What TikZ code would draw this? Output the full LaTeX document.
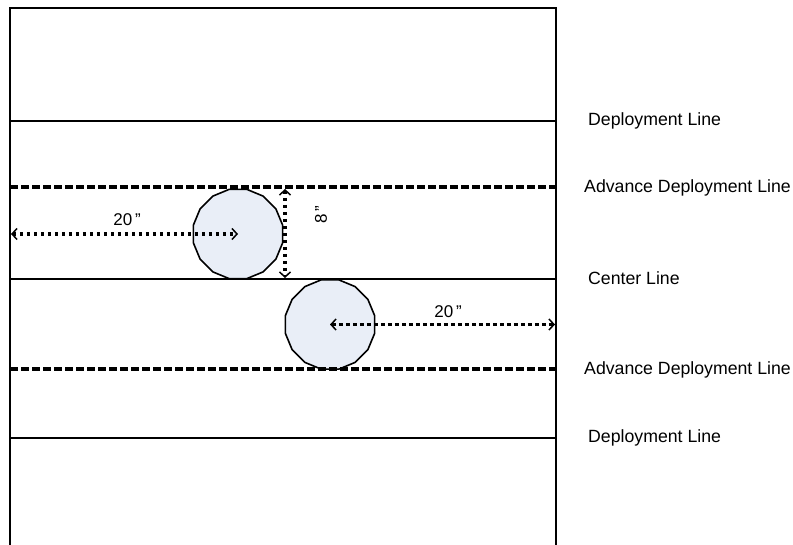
\documentclass[tikz,border=0pt]{standalone}
\usepackage{fontspec}
\setmainfont{Liberation Sans}
\usetikzlibrary{arrows.meta,shapes.geometric}
\definecolor{robotfill}{HTML}{E9EEF7}
\newcommand{\inch}{{\char"0022}}
\tikzset{
  fieldline/.style={line width=2pt},
  advline/.style={line width=3.2pt, dash pattern=on 8pt off 3pt},
  robot/.style={regular polygon, regular polygon sides=16, minimum size=91pt, inner sep=0pt, draw, line width=1.6pt, fill=robotfill},
  dotarrow/.style={line width=3.2pt, dash pattern=on 3pt off 4pt, {Straight Barb[length=5pt,width=11pt,line width=1.5pt]}-{Straight Barb[length=5pt,width=11pt,line width=1.5pt]}},
  dasharrow/.style={line width=2.4pt, dash pattern=on 4pt off 3pt, {Straight Barb[length=5pt,width=11pt,line width=1.5pt]}-{Straight Barb[length=5pt,width=11pt,line width=1.5pt]}},
  lbl/.style={font=\fontsize{17.7}{20}\selectfont, anchor=west, inner sep=0pt},
  dim/.style={font=\fontsize{17}{18}\selectfont, inner sep=0pt}
}
\begin{document}
\begin{tikzpicture}[x=1pt,y=-1pt]
\useasboundingbox (0,0) rectangle (793,545);
\fill[white] (0,0) rectangle (793,545);
% robots
\node[robot] (r1) at (238,234) {};
\node[robot] (r2) at (330,324.5) {};
% field border
\coordinate (bl) at (10,545);
\coordinate (tl) at (10,8);
\coordinate (tr) at (556,8);
\coordinate (br) at (556,545);
\draw[fieldline] (bl) -- (tl) -- (tr) -- (br);
% lines
\coordinate (d1l) at (10,121); \coordinate (d1r) at (556,121);
\coordinate (a1l) at (10,187); \coordinate (a1r) at (556,187);
\coordinate (cl) at (10,279); \coordinate (cr) at (556,279);
\coordinate (a2l) at (10,369); \coordinate (a2r) at (556,369);
\coordinate (d2l) at (10,438); \coordinate (d2r) at (556,438);
\draw[fieldline] (d1l) -- (d1r);
\draw[advline] (a1l) -- (a1r);
\draw[fieldline] (cl) -- (cr);
\draw[advline] (a2l) -- (a2r);
\draw[fieldline] (d2l) -- (d2r);
% labels
\node[lbl] (t1) at (588,121) {Deployment Line};
\node[lbl] (t2) at (584,188) {Advance Deployment Line};
\node[lbl] (t3) at (588,278) {Center Line};
\node[lbl] (t4) at (584,370) {Advance Deployment Line};
\node[lbl] (t5) at (588,438) {Deployment Line};
% dimensions
\coordinate (w1) at (11,234);
\draw[dotarrow] (w1) -- (r1.center);
\node[dim] (l1) at (127,220) {20\,\inch};
\coordinate (v1) at (285,189);
\coordinate (v2) at (285,278);
\draw[dotarrow] (v1) -- (v2);
\node[dim, rotate=90] (l2) at (321,215) {8\,\inch};
\coordinate (w2) at (555,324.5);
\draw[dasharrow] (r2.center) -- (w2);
\node[dim] (l3) at (448,312) {20\,\inch};
\end{tikzpicture}
\end{document}
